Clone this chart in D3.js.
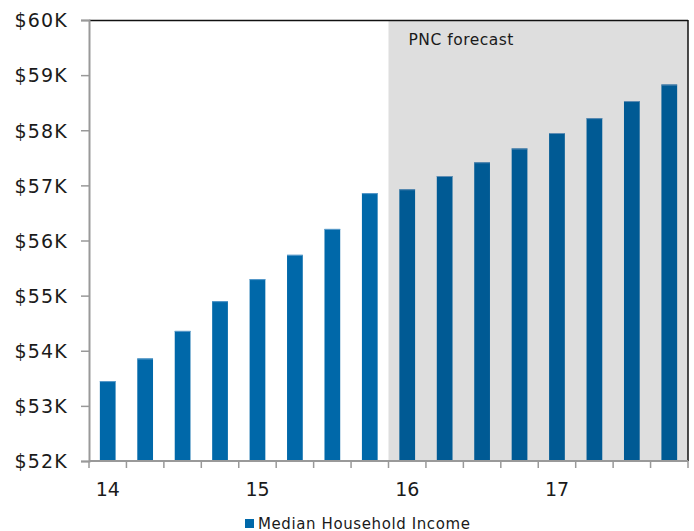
<!DOCTYPE html>
<html>
<head>
<meta charset="utf-8">
<script src="https://cdn.jsdelivr.net/npm/d3@7"></script>
<style>
  html, body { margin: 0; padding: 0; background: #fff; }
  svg { display: block; font-family: "DejaVu Sans", Verdana, sans-serif; }
</style>
</head>
<body>
<svg id="chart" width="694" height="531"></svg>
<script>
// Quarterly median household income, 2014 Q1 – 2017 Q4 (thousands of dollars)
const quarters = ["14Q1","14Q2","14Q3","14Q4","15Q1","15Q2","15Q3","15Q4",
                  "16Q1","16Q2","16Q3","16Q4","17Q1","17Q2","17Q3","17Q4"];
const incomeK = [53.45, 53.86, 54.36, 54.90, 55.30, 55.74, 56.21, 56.86,
                 56.93, 57.17, 57.42, 57.67, 57.95, 58.22, 58.53, 58.83];
const forecastFrom = "16Q1";
const yearLabels = [
  { q: "14Q1", label: "14" }, { q: "15Q1", label: "15" },
  { q: "16Q1", label: "16" }, { q: "17Q1", label: "17" }
];
const yTicks = [52, 53, 54, 55, 56, 57, 58, 59, 60];
const seriesName = "Median Household Income";
const forecastLabel = "PNC forecast";

const svg = d3.select("#chart");
const plotL = 89, plotR = 688, plotT = 20, plotB = 461;

const x = d3.scaleBand().domain(quarters).range([plotL, plotR]).paddingInner(0.58).paddingOuter(0.29);
const y = d3.scaleLinear().domain([52, 60]).range([plotB, plotT]);
const step = x.step();
const bandStart = q => plotL + quarters.indexOf(q) * step;

// Forecast shading
const fx = bandStart(forecastFrom);
svg.append("rect")
  .attr("x", fx).attr("y", plotT)
  .attr("width", plotR - fx).attr("height", plotB - plotT)
  .attr("fill", "#dedede");

svg.append("text")
  .attr("x", fx + 20).attr("y", 45)
  .attr("font-size", 15.5).attr("fill", "#1a1a1a")
  .attr("letter-spacing", 0.5)
  .text(forecastLabel);

// Bars
const isForecast = q => quarters.indexOf(q) >= quarters.indexOf(forecastFrom);
const bars = svg.append("g");
quarters.forEach((q, i) => {
  const c = isForecast(q) ? "#005a94" : "#0068a9";
  bars.append("rect")
    .attr("x", x(q)).attr("y", y(incomeK[i]))
    .attr("width", x.bandwidth()).attr("height", y(52) - y(incomeK[i]))
    .attr("fill", c);
  bars.append("rect")
    .attr("x", x(q)).attr("y", y(incomeK[i]))
    .attr("width", x.bandwidth()).attr("height", 1)
    .attr("fill", isForecast(q) ? "#5f8db3" : "#5c9ccb");
});

// Top and right frame
svg.append("line").attr("x1", plotL).attr("x2", plotR).attr("y1", plotT + 0.5).attr("y2", plotT + 0.5)
  .attr("stroke", "#111").attr("stroke-width", 1.5);
svg.append("line").attr("x1", plotR).attr("x2", plotR).attr("y1", plotT).attr("y2", plotB)
  .attr("stroke", "#111").attr("stroke-width", 1.5);

// Y axis
const yAxis = d3.axisLeft(y).tickValues(yTicks).tickSize(8).tickPadding(13)
  .tickFormat(d => "$" + d + "K");
const gy = svg.append("g").attr("transform", `translate(${plotL},0)`).call(yAxis);
gy.select(".domain").attr("stroke", "#999").attr("stroke-width", 2);
gy.selectAll(".tick line").attr("stroke", "#999").attr("stroke-width", 1.5);
gy.selectAll(".tick text").attr("font-size", 19).attr("fill", "#1a1a1a")
  .attr("letter-spacing", 1.2)
  .attr("font-family", "'DejaVu Sans', Verdana, sans-serif").attr("dy", "0.36em");

// X axis: tick marks at band boundaries
const boundaries = d3.range(quarters.length + 1).map(i => plotL + i * step);
const gx = svg.append("g");
gx.append("line").attr("x1", plotL).attr("x2", plotR).attr("y1", plotB).attr("y2", plotB)
  .attr("stroke", "#999").attr("stroke-width", 2);
gx.selectAll("line.tk").data(boundaries).join("line").attr("class", "tk")
  .attr("x1", d => d).attr("x2", d => d)
  .attr("y1", plotB).attr("y2", plotB + 7)
  .attr("stroke", "#999").attr("stroke-width", 1.5);
gx.selectAll("text").data(yearLabels).join("text")
  .attr("x", d => x(d.q) + x.bandwidth() / 2)
  .attr("y", 496)
  .attr("text-anchor", "middle")
  .attr("font-size", 19).attr("fill", "#1a1a1a")
  .text(d => d.label);

// Legend
svg.append("rect").attr("x", 245).attr("y", 519).attr("width", 9).attr("height", 9).attr("fill", "#0068a9");
svg.append("text").attr("x", 258).attr("y", 529)
  .attr("font-size", 15).attr("fill", "#1a1a1a").attr("letter-spacing", 0.6)
  .text(seriesName);
</script>
</body>
</html>
